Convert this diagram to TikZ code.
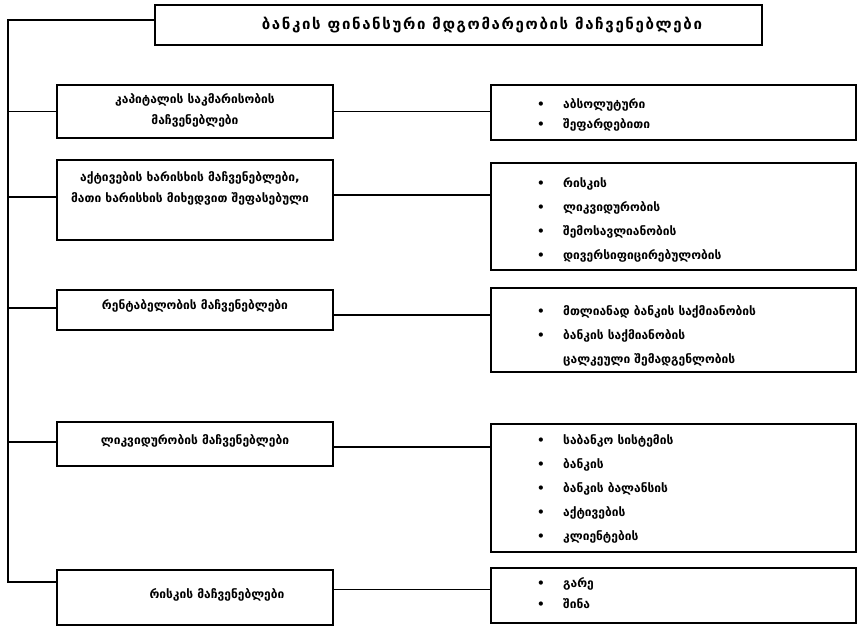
\documentclass[tikz,border=0pt]{standalone}
\usepackage{fontspec}
\newfontfamily\geo{DejaVu Sans}
\newfontfamily\geowide{DejaVu Sans}[LetterSpace=11]
\tikzset{
  box/.style={draw, line width=1.3pt, inner sep=0pt},
  lbl/.style={font=\geo\bfseries\fontsize{12}{21}\selectfont, align=center, inner sep=0pt},
  lst/.style={font=\geo\bfseries\fontsize{12}{24}\selectfont, align=left, inner sep=0pt, anchor=north west},
  wire/.style={line width=1.3pt}
}
\newcommand{\itm}[1]{\makebox[26pt][l]{•}#1}
\begin{document}
\begin{tikzpicture}[x=1pt,y=-1pt]
\useasboundingbox (0,0) rectangle (866,629);

% title
\node[box, minimum width=607pt, minimum height=40pt] (T) at (458.5,25) {};
\node[lbl, font=\geowide\bfseries\fontsize{15}{21}\selectfont] (tT) at (482,25) {ბანკის ფინანსური მდგომარეობის მაჩვენებლები};

% left column
\node[box, minimum width=276pt, minimum height=53pt] (L1) at (195,111.5) {};
\node[box, minimum width=276pt, minimum height=80pt] (L2) at (195,200) {};
\node[box, minimum width=276pt, minimum height=40pt] (L3) at (195,310) {};
\node[box, minimum width=276pt, minimum height=44pt] (L4) at (195,444) {};
\node[box, minimum width=276pt, minimum height=55pt] (L5) at (195,597.5) {};

\node[lbl] (t1) at (195,110) {კაპიტალის საკმარისობის\\მაჩვენებლები};
\node[lbl] (t2) at (190,188) {აქტივების ხარისხის მაჩვენებლები,\\მათი ხარისხის მიხედვით შეფასებული};
\node[lbl] (t3) at (195,306) {რენტაბელობის მაჩვენებლები};
\node[lbl] (t4) at (195,441) {ლიკვიდურობის მაჩვენებლები};
\node[lbl] (t5) at (217,595) {რისკის მაჩვენებლები};

% right column
\node[box, minimum width=365pt, minimum height=55pt] (R1) at (673.5,112.5) {};
\node[box, minimum width=365pt, minimum height=107pt] (R2) at (673.5,216.5) {};
\node[box, minimum width=365pt, minimum height=84pt] (R3) at (673.5,330) {};
\node[box, minimum width=365pt, minimum height=128pt] (R4) at (673.5,488) {};
\node[box, minimum width=365pt, minimum height=55pt] (R5) at (673.5,595.5) {};

\node[lst, font=\geo\bfseries\fontsize{12}{20}\selectfont] (r1) at (537,98) {\itm{აბსოლუტური}\\\itm{შეფარდებითი}};
\node[lst] (r2) at (537,177) {\itm{რისკის}\\\itm{ლიკვიდურობის}\\\itm{შემოსავლიანობის}\\\itm{დივერსიფიცირებულობის}};
\node[lst] (r3) at (537,305) {\itm{მთლიანად ბანკის საქმიანობის}\\\itm{ბანკის საქმიანობის}\\\hspace*{26pt}ცალკეული შემადგენლობის};
\node[lst] (r4) at (537,434) {\itm{საბანკო სისტემის}\\\itm{ბანკის}\\\itm{ბანკის ბალანსის}\\\itm{აქტივების}\\\itm{კლიენტების}};
\node[lst, font=\geo\bfseries\fontsize{12}{21}\selectfont] (r5) at (537,577) {\itm{გარე}\\\itm{შინა}};

% trunk and branches
\coordinate (k0) at (8,20);
\coordinate (k5) at (8,582);
\draw[wire] (T.west |- k0) -- (k0) -- (k5) -- (k5 -| L5.west);
\draw[wire] (k0 |- L1.west) -- (L1.west);
\draw[wire] ([yshift=3pt]k0 |- L2.west) -- ([yshift=3pt]L2.west);
\draw[wire] ([yshift=2pt]k0 |- L3.west) -- ([yshift=2pt]L3.west);
\draw[wire] ([yshift=2pt]k0 |- L4.west) -- ([yshift=2pt]L4.west);

% links to the lists
\draw[wire] (L1.east) -- (L1.east -| R1.west);
\draw[wire] ([yshift=5pt]L2.east) -- ([yshift=5pt]L2.east -| R2.west);
\draw[wire] ([yshift=-5pt]L3.east) -- ([yshift=-5pt]L3.east -| R3.west);
\draw[wire] ([yshift=-3pt]L4.east) -- ([yshift=-3pt]L4.east -| R4.west);
\draw[wire] ([yshift=8pt]L5.east) -- ([yshift=8pt]L5.east -| R5.west);
\end{tikzpicture}
\end{document}
